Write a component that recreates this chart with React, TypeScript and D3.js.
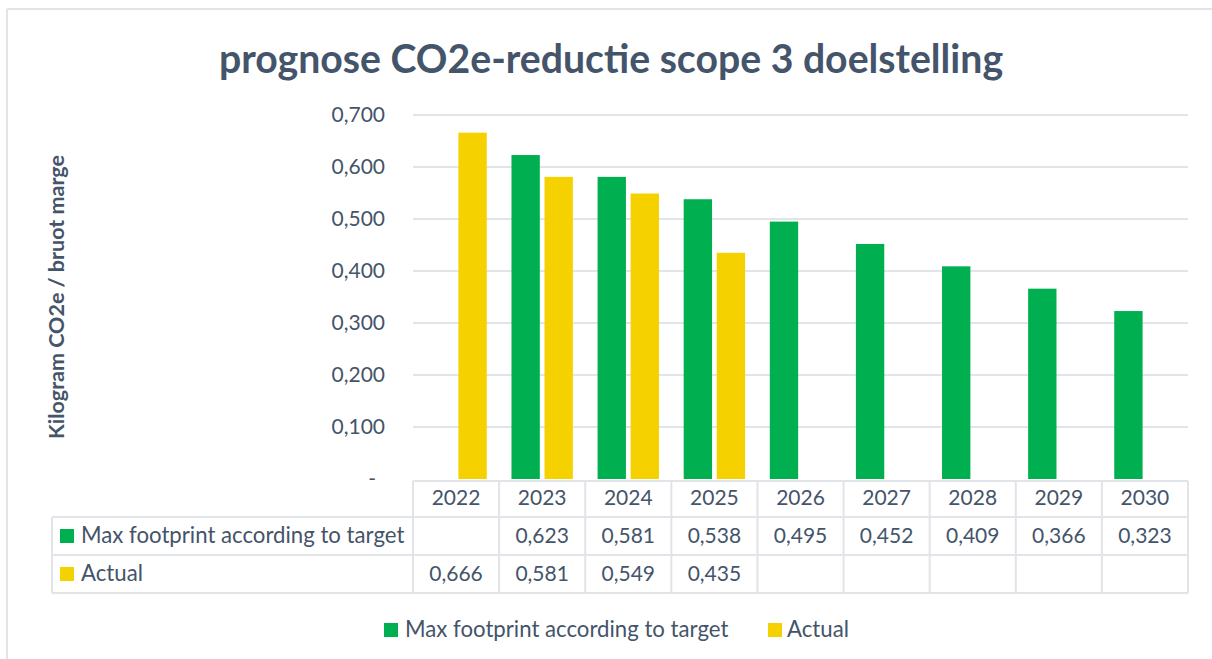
import React from "react";
import * as d3 from "d3";

const years = ["2022", "2023", "2024", "2025", "2026", "2027", "2028", "2029", "2030"];
const maxFootprint: (number | null)[] = [null, 0.623, 0.581, 0.538, 0.495, 0.452, 0.409, 0.366, 0.323];
const actual: (number | null)[] = [0.666, 0.581, 0.549, 0.435, null, null, null, null, null];
const yTicks = [0, 0.1, 0.2, 0.3, 0.4, 0.5, 0.6, 0.7];
const seriesNames = ["Max footprint according to target", "Actual"];
const seriesKeys = ["max", "actual"];
const colors = ["#00B050", "#F6D100"];
const title = "prognose CO2e-reductie scope 3 doelstelling";
const yTitle = "Kilogram CO2e / bruot marge";

const W = 1212;
const H = 659;
const TEXT = "#44546A";
const GRID = "#E1E4E8";
const FONT = "Lato, 'Open Sans', sans-serif";

export default function App() {
  const left = 413;
  const right = 1188;
  const x = d3.scaleBand<string>().domain(years).range([left, right]).padding(0);
  const xi = d3
    .scaleBand<string>()
    .domain(seriesKeys)
    .range([0, x.bandwidth()])
    .paddingInner(0.142)
    .paddingOuter(0.374);
  const y = d3.scaleLinear().domain([0, 0.7]).range([479, 115]);
  const fmt = (v: number) => d3.format(".3f")(v).replace(".", ",");
  const series = [maxFootprint, actual];

  const headTop = 481;
  const row1Top = 517;
  const row2Top = 555;
  const tableBottom = 593;
  const labelLeft = 52;
  const fs = 21;
  const fsLabel = 22.2;

  return (
    <svg
      width={W}
      height={H}
      style={{ position: "absolute", left: 0, top: 0, background: "#fff" }}
      fontFamily={FONT}
    >
      {/* outer border (only top/left visible) */}
      <line x1={7} y1={9} x2={W} y2={9} stroke={GRID} strokeWidth={2} />
      <line x1={7} y1={9} x2={7} y2={H} stroke={GRID} strokeWidth={2} />

      {/* title */}
      <text x={611} y={73} textAnchor="middle" fontSize={39.2} fontWeight="bold" fill={TEXT}>
        {title}
      </text>

      {/* y axis title */}
      <text
        transform={`translate(64,297) rotate(-90)`}
        textAnchor="middle"
        fontSize={21.5}
        fontWeight="bold"
        fill={TEXT}
      >
        {yTitle}
      </text>

      {/* gridlines and tick labels */}
      {yTicks.map((t) => (
        <g key={t}>
          {t > 0 && (
            <line x1={left} x2={right} y1={y(t)} y2={y(t)} stroke={GRID} strokeWidth={2} />
          )}
          <text
            x={t === 0 ? 376 : 385}
            y={y(t)}
            dy="0.35em"
            textAnchor="end"
            fontSize={fs}
            fill={TEXT}
          >
            {t === 0 ? "-" : fmt(t)}
          </text>
        </g>
      ))}

      {/* bars */}
      {series.map((vals, si) =>
        vals.map((v, i) =>
          v == null ? null : (
            <rect
              key={`${si}-${i}`}
              x={(x(years[i]) as number) + (xi(seriesKeys[si]) as number)}
              y={y(v)}
              width={xi.bandwidth()}
              height={y(0) - y(v)}
              fill={colors[si]}
            />
          )
        )
      )}

      {/* data table */}
      <g stroke={GRID} strokeWidth={2} fill="none">
        <line x1={left} x2={right} y1={headTop} y2={headTop} />
        <line x1={labelLeft} x2={right} y1={row1Top} y2={row1Top} />
        <line x1={labelLeft} x2={right} y1={row2Top} y2={row2Top} />
        <line x1={labelLeft} x2={right} y1={tableBottom} y2={tableBottom} />
        <line x1={labelLeft} x2={labelLeft} y1={row1Top} y2={tableBottom} />
        {years.map((yr) => (
          <line
            key={yr}
            x1={x(yr) as number}
            x2={x(yr) as number}
            y1={headTop}
            y2={tableBottom}
          />
        ))}
        <line x1={right} x2={right} y1={headTop} y2={tableBottom} />
      </g>

      {years.map((yr) => (
        <text
          key={yr}
          x={(x(yr) as number) + x.bandwidth() / 2}
          y={505}
          textAnchor="middle"
          fontSize={fs}
          fill={TEXT}
        >
          {yr}
        </text>
      ))}

      {series.map((vals, si) => {
        const base = si === 0 ? 543 : 581;
        return (
          <g key={si}>
            <rect x={60} y={base - 14} width={14} height={14} fill={colors[si]} />
            <text x={81} y={base} fontSize={fsLabel} fill={TEXT}>
              {seriesNames[si]}
            </text>
            {vals.map((v, i) =>
              v == null ? null : (
                <text
                  key={i}
                  x={(x(years[i]) as number) + x.bandwidth() / 2}
                  y={base}
                  textAnchor="middle"
                  fontSize={fs}
                  fill={TEXT}
                >
                  {fmt(v)}
                </text>
              )
            )}
          </g>
        );
      })}

      {/* legend */}
      {[
        { sq: 384, tx: 405 },
        { sq: 768, tx: 787 },
      ].map((p, si) => (
        <g key={si}>
          <rect x={p.sq} y={623} width={14} height={14} fill={colors[si]} />
          <text x={p.tx} y={637} fontSize={fsLabel} fill={TEXT}>
            {seriesNames[si]}
          </text>
        </g>
      ))}
    </svg>
  );
}
